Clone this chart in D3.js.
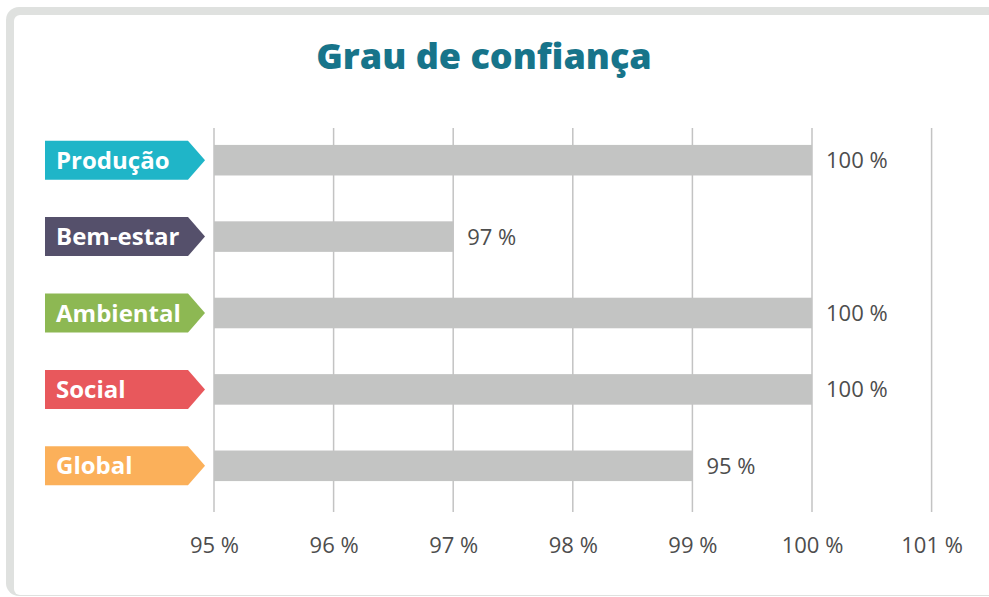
<!DOCTYPE html>
<html>
<head>
<meta charset="utf-8">
<script src="https://cdn.jsdelivr.net/npm/d3@7"></script>
<style>
  html, body { margin: 0; padding: 0; background: #fff; }
  svg { display: block; }
</style>
</head>
<body>
<svg id="chart" width="989" height="597"></svg>
<script>
const categories = ["Produção", "Bem-estar", "Ambiental", "Social", "Global"];
const values = [100, 97, 100, 100, 99];
const valueLabels = ["100 %", "97 %", "100 %", "100 %", "95 %"];
const tagColors = ["#1fb5c8", "#55506b", "#8db853", "#e8585c", "#fbb05a"];
const ticks = [95, 96, 97, 98, 99, 100, 101];

const W = 989, H = 597;
const svg = d3.select("#chart");
const FONT = "'Open Sans', 'Noto Sans', sans-serif";

// Frame
svg.append("rect")
  .attr("x", 6).attr("y", 7).attr("width", 1010).attr("height", 589)
  .attr("rx", 13).attr("fill", "#dfe1df");
svg.append("rect")
  .attr("x", 14).attr("y", 15).attr("width", 1010).attr("height", 580)
  .attr("rx", 6).attr("fill", "#fff");

// Title
svg.append("text")
  .attr("x", 484).attr("y", 69)
  .attr("text-anchor", "middle")
  .style("fill", "#17748a").style("font-size", "36px").style("font-weight", "800")
  .style("font-family", FONT)
  .text("Grau de confiança");

const x = d3.scaleLinear().domain([95, 100]).range([214, 812]);
const y = d3.scaleBand().domain(categories).range([122, 504]).paddingInner(0.6).paddingOuter(0.3);

// Grid
svg.append("g").selectAll("line").data(ticks).join("line")
  .attr("x1", d => x(d)).attr("x2", d => x(d))
  .attr("y1", 128).attr("y2", 512)
  .attr("stroke", "#c3c3c3").attr("stroke-width", 1.5);

// Axis labels
svg.append("g")
  .attr("transform", "translate(0,530)")
  .call(d3.axisBottom(x).tickValues(ticks).tickSize(0).tickFormat(d => `${d} %`))
  .call(ax => {
    ax.select(".domain").remove();
    ax.selectAll(".tick text")
      .style("fill", "#4d4d4d").style("font-size", "22px").style("font-family", FONT)
      .style("font-weight", "400").attr("dy", "0.9em");
  });

const rows = categories.map((c, i) => ({ c, v: values[i], label: valueLabels[i], color: tagColors[i] }));

// Bars
svg.append("g").selectAll("rect").data(rows).join("rect")
  .attr("x", x(95))
  .attr("y", d => y(d.c))
  .attr("width", d => x(d.v) - x(95))
  .attr("height", y.bandwidth())
  .attr("fill", "#c3c4c3");

// Value labels
svg.append("g").selectAll("text").data(rows).join("text")
  .attr("x", d => x(d.v) + 14)
  .attr("y", d => y(d.c) + y.bandwidth() / 2)
  .attr("dy", "0.36em")
  .style("fill", "#4d4d4d").style("font-size", "22px").style("font-weight", "400")
  .style("font-family", FONT)
  .text(d => d.label);

// Category tags
const tag = svg.append("g").selectAll("g").data(rows).join("g")
  .attr("transform", d => `translate(0,${y(d.c) + y.bandwidth() / 2})`);
tag.append("path")
  .attr("d", "M45,-19.5 H188 L205,0 L188,19.5 H45 Z")
  .attr("fill", d => d.color);
tag.append("text")
  .attr("x", 56).attr("dy", "0.36em")
  .style("fill", "#fff").style("font-size", "24px").style("font-weight", "700")
  .style("font-family", FONT)
  .text(d => d.c);
</script>
</body>
</html>
